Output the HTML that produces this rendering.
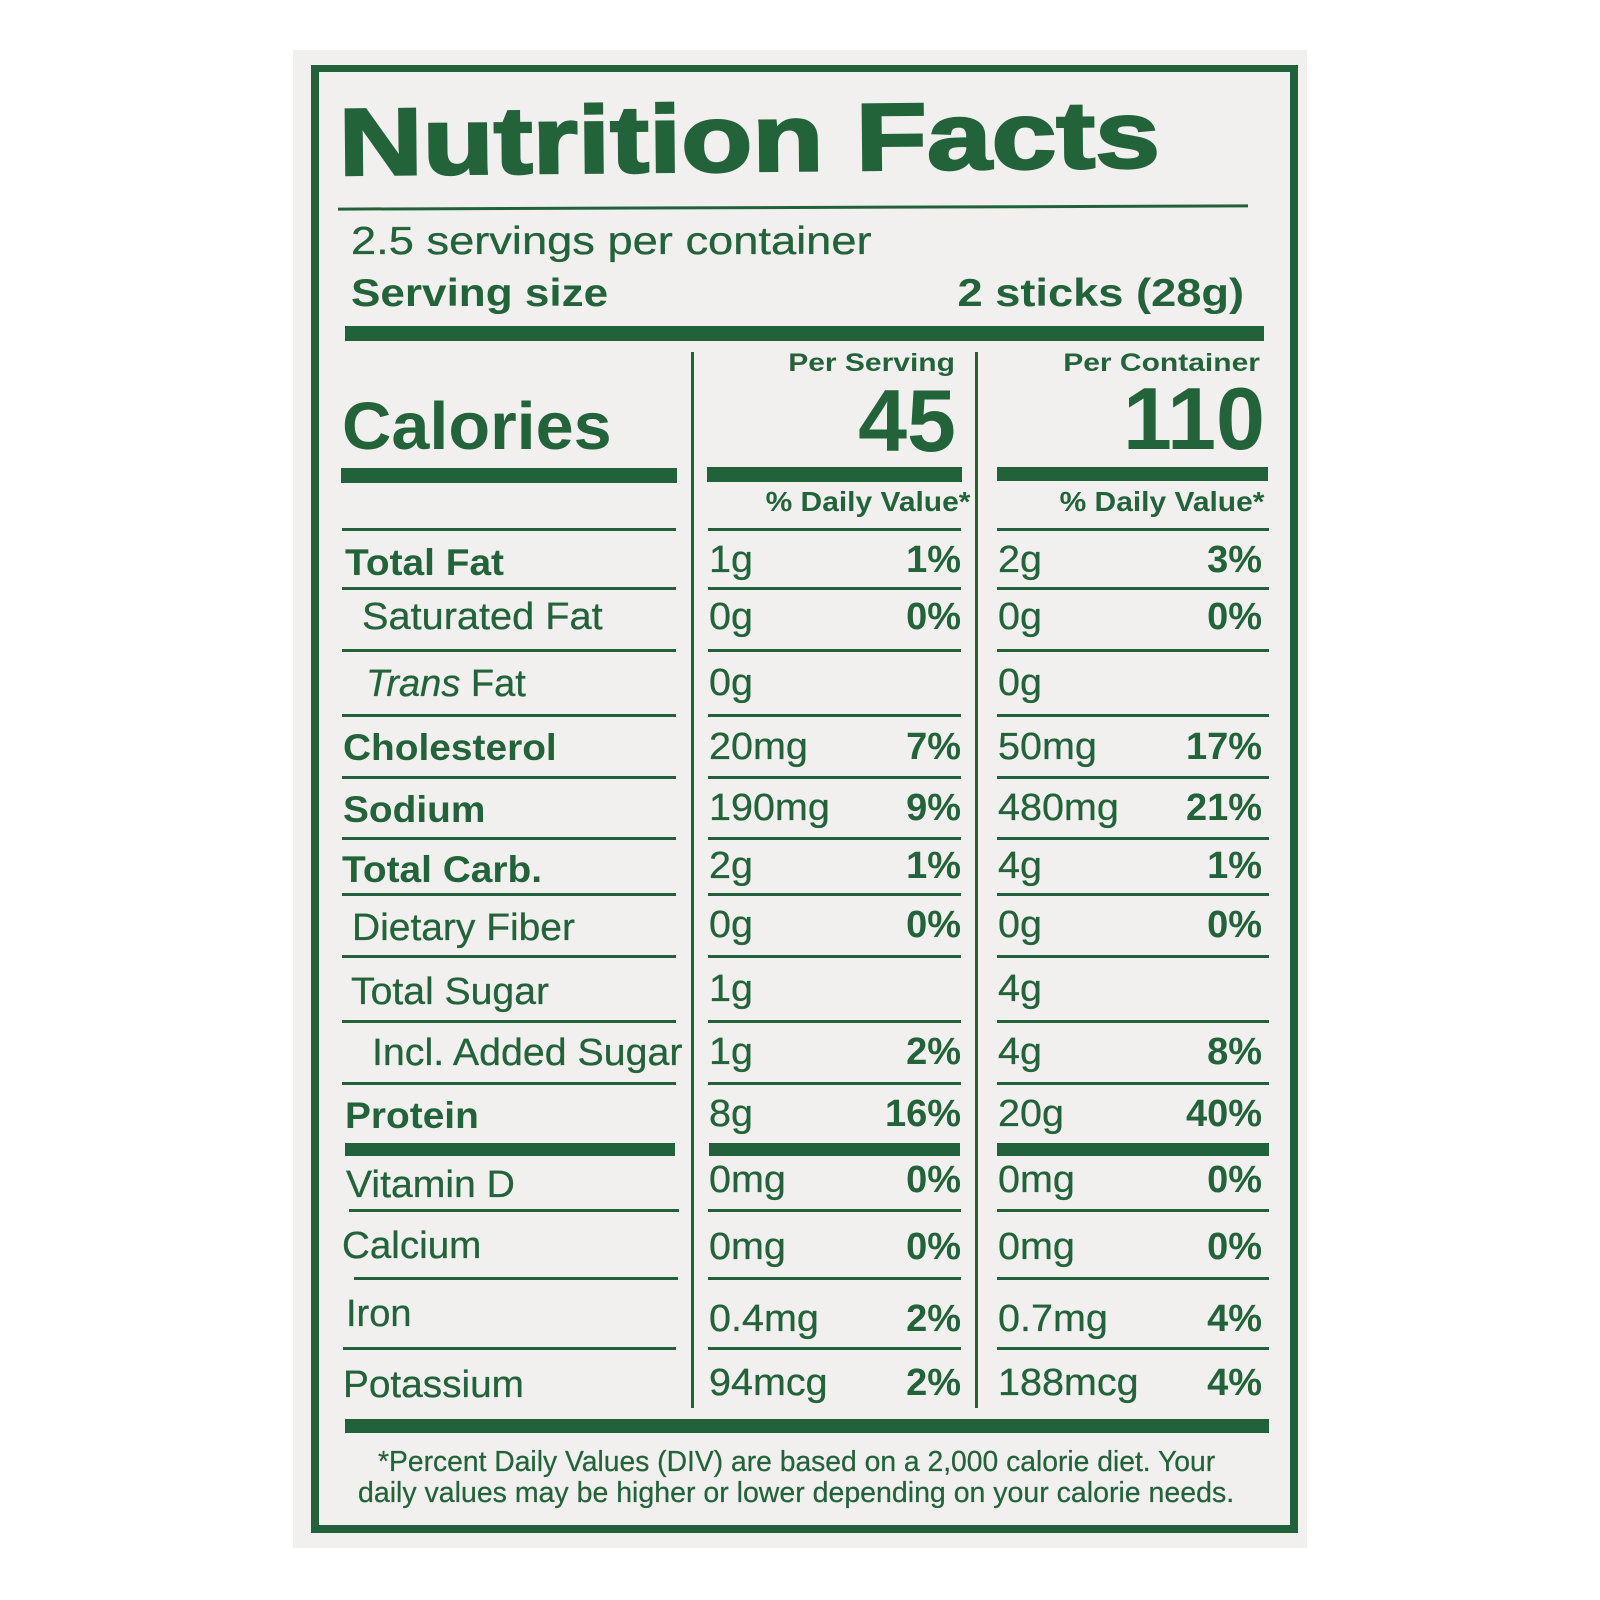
<!DOCTYPE html>
<html>
<head>
<meta charset="utf-8">
<style>
  html,body{margin:0;padding:0;}
  body{width:1600px;height:1600px;background:#ffffff;position:relative;overflow:hidden;}
  .panel{position:absolute;left:293px;top:50px;width:1014px;height:1498px;background:#f1f0ef;}
  .border{position:absolute;left:311px;top:65px;width:971px;height:1453px;border:8px solid #22623a;border-top-width:7px;}
  .t{position:absolute;white-space:nowrap;line-height:1;font-family:"Liberation Sans",Arial,sans-serif;color:#23633a;}
  .b{font-weight:bold;}
  .l{transform-origin:0 0;}
  .r{text-align:right;transform-origin:100% 0;}
  .ln{position:absolute;background:#22623a;height:3px;}
  .bar{position:absolute;background:#22623a;}
  .lc{left:342px;width:334px;}
  .mc{left:708px;width:253px;}
  .rc{left:997px;width:272px;}
  .lab{font-size:37px;transform-origin:0 0;transform:scaleX(1.05);}
  .reg{font-size:38px;transform-origin:0 0;-webkit-text-stroke:0.3px #23633a;}
  .val{font-size:38px;}
  .mv,.rv{transform-origin:0 0;transform:scaleX(1.04);-webkit-text-stroke:0.3px #23633a;}
  .mv{left:709px;}
  .rv{left:998px;}
  .mp{right:639px;}
  .rp{right:338px;}
</style>
</head>
<body>
<div class="panel"></div>
<div class="border"></div>

<!-- Title -->
<div class="t b" style="left:339px;top:96.1px;font-size:95px;transform-origin:0 80.4px;transform:rotate(-0.55deg) scaleX(1.225);-webkit-text-stroke:2.5px #23633a;">Nutrition Facts</div>
<div class="ln" style="left:338px;top:206px;width:910px;transform:rotate(-0.2deg);"></div>

<div class="t l" style="left:351px;top:222px;font-size:39px;transform:scaleX(1.16);-webkit-text-stroke:0.3px #23633a;">2.5 servings per container</div>
<div class="t b l" style="left:351px;top:274px;font-size:39px;transform:scaleX(1.13);">Serving size</div>
<div class="t b r" style="right:356px;top:274px;font-size:39px;transform:scaleX(1.16);">2 sticks (28g)</div>

<div class="bar" style="left:345px;top:326px;width:919px;height:15px;"></div>

<!-- dividers -->
<div class="bar" style="left:691px;top:352px;width:3px;height:1056px;"></div>
<div class="bar" style="left:975px;top:352px;width:3px;height:1056px;"></div>

<div class="t b r" style="right:645px;top:350.8px;font-size:25px;transform:scaleX(1.2);">Per Serving</div>
<div class="t b r" style="right:340px;top:350.8px;font-size:25px;transform:scaleX(1.2);">Per Container</div>

<div class="t b l" style="left:342px;top:393.3px;font-size:67px;transform:scaleX(1.02);">Calories</div>
<div class="t b r" style="right:644px;top:376.5px;font-size:88px;">45</div>
<div class="t b r" style="right:335px;top:374.5px;font-size:88px;">110</div>

<div class="bar" style="left:341px;top:468px;width:336px;height:15px;"></div>
<div class="bar" style="left:707px;top:467px;width:255px;height:15px;"></div>
<div class="bar" style="left:997px;top:467px;width:271px;height:14px;"></div>

<div class="t b r" style="right:630px;top:488.3px;font-size:28px;transform:scaleX(1.07);">% Daily Value*</div>
<div class="t b r" style="right:336px;top:488.3px;font-size:28px;transform:scaleX(1.07);">% Daily Value*</div>

<!-- thin lines -->
<div class="ln lc" style="top:527.5px"></div><div class="ln mc" style="top:527.5px"></div><div class="ln rc" style="top:527.5px"></div>
<div class="ln lc" style="top:587px"></div><div class="ln mc" style="top:587px"></div><div class="ln rc" style="top:587px"></div>
<div class="ln lc" style="top:649px"></div><div class="ln mc" style="top:649px"></div><div class="ln rc" style="top:649px"></div>
<div class="ln lc" style="top:714px"></div><div class="ln mc" style="top:714px"></div><div class="ln rc" style="top:714px"></div>
<div class="ln lc" style="top:776px"></div><div class="ln mc" style="top:776px"></div><div class="ln rc" style="top:776px"></div>
<div class="ln lc" style="top:837px"></div><div class="ln mc" style="top:837px"></div><div class="ln rc" style="top:837px"></div>
<div class="ln lc" style="top:893px"></div><div class="ln mc" style="top:893px"></div><div class="ln rc" style="top:893px"></div>
<div class="ln lc" style="top:954.5px"></div><div class="ln mc" style="top:954.5px"></div><div class="ln rc" style="top:954.5px"></div>
<div class="ln lc" style="top:1020px"></div><div class="ln mc" style="top:1020px"></div><div class="ln rc" style="top:1020px"></div>
<div class="ln lc" style="top:1082px"></div><div class="ln mc" style="top:1082px"></div><div class="ln rc" style="top:1082px"></div>
<div class="bar" style="left:345px;top:1143px;width:330px;height:13px;"></div>
<div class="bar" style="left:709px;top:1143px;width:251px;height:13px;"></div>
<div class="bar" style="left:997px;top:1143px;width:272px;height:13px;"></div>
<div class="ln" style="left:349px;width:330px;top:1209px"></div><div class="ln mc" style="top:1209px"></div><div class="ln rc" style="top:1209px"></div>
<div class="ln" style="left:354px;width:324px;top:1276.5px"></div><div class="ln mc" style="top:1276.5px"></div><div class="ln rc" style="top:1276.5px"></div>
<div class="ln" style="left:343px;width:333px;top:1347px"></div><div class="ln mc" style="top:1347px"></div><div class="ln rc" style="top:1347px"></div>

<div class="bar" style="left:345px;top:1419px;width:924px;height:14px;"></div>

<!-- Row 1 Total Fat -->
<div class="t b lab" style="left:345px;top:543.7px;">Total Fat</div>
<div class="t val mv" style="top:540.8px;">1g</div>
<div class="t b val r mp" style="top:540.8px;">1%</div>
<div class="t val rv" style="top:540.8px;">2g</div>
<div class="t b val r rp" style="top:540.8px;">3%</div>

<!-- Row 2 Saturated Fat -->
<div class="t reg" style="left:362px;top:597.8px;transform:scaleX(1.045);">Saturated Fat</div>
<div class="t val mv" style="top:597.8px;">0g</div>
<div class="t b val r mp" style="top:597.8px;">0%</div>
<div class="t val rv" style="top:597.8px;">0g</div>
<div class="t b val r rp" style="top:597.8px;">0%</div>

<!-- Row 3 Trans Fat -->
<div class="t reg" style="left:366px;top:664.8px;"><i>Trans</i> Fat</div>
<div class="t val mv" style="top:663.8px;">0g</div>
<div class="t val rv" style="top:663.8px;">0g</div>

<!-- Row 4 Cholesterol -->
<div class="t b lab" style="left:343px;top:728.7px;">Cholesterol</div>
<div class="t val mv" style="top:727.8px;">20mg</div>
<div class="t b val r mp" style="top:727.8px;">7%</div>
<div class="t val rv" style="top:727.8px;">50mg</div>
<div class="t b val r rp" style="top:727.8px;">17%</div>

<!-- Row 5 Sodium -->
<div class="t b lab" style="left:343px;top:790.7px;">Sodium</div>
<div class="t val mv" style="top:789.3px;">190mg</div>
<div class="t b val r mp" style="top:789.3px;">9%</div>
<div class="t val rv" style="top:789.3px;">480mg</div>
<div class="t b val r rp" style="top:789.3px;">21%</div>

<!-- Row 6 Total Carb -->
<div class="t b lab" style="left:342px;top:851.2px;">Total Carb.</div>
<div class="t val mv" style="top:847.3px;">2g</div>
<div class="t b val r mp" style="top:847.3px;">1%</div>
<div class="t val rv" style="top:847.3px;">4g</div>
<div class="t b val r rp" style="top:847.3px;">1%</div>

<!-- Row 7 Dietary Fiber -->
<div class="t reg" style="left:352px;top:909px;transform:scaleX(1.025);">Dietary Fiber</div>
<div class="t val mv" style="top:905.8px;">0g</div>
<div class="t b val r mp" style="top:905.8px;">0%</div>
<div class="t val rv" style="top:905.8px;">0g</div>
<div class="t b val r rp" style="top:905.8px;">0%</div>

<!-- Row 8 Total Sugar -->
<div class="t reg" style="left:351px;top:973px;transform:scaleX(1.03);">Total Sugar</div>
<div class="t val mv" style="top:969.8px;">1g</div>
<div class="t val rv" style="top:969.8px;">4g</div>

<!-- Row 9 Incl. Added Sugar -->
<div class="t reg" style="left:372px;top:1034px;transform:scaleX(1.035);">Incl. Added Sugar</div>
<div class="t val mv" style="top:1032.8px;">1g</div>
<div class="t b val r mp" style="top:1032.8px;">2%</div>
<div class="t val rv" style="top:1032.8px;">4g</div>
<div class="t b val r rp" style="top:1032.8px;">8%</div>

<!-- Row 10 Protein -->
<div class="t b lab" style="left:345px;top:1096.7px;">Protein</div>
<div class="t val mv" style="top:1094.8px;">8g</div>
<div class="t b val r mp" style="top:1094.8px;">16%</div>
<div class="t val rv" style="top:1094.8px;">20g</div>
<div class="t b val r rp" style="top:1094.8px;">40%</div>

<!-- Row 11 Vitamin D -->
<div class="t reg" style="left:346px;top:1166px;transform:scaleX(1.03);">Vitamin D</div>
<div class="t val mv" style="top:1161px;">0mg</div>
<div class="t b val r mp" style="top:1161px;">0%</div>
<div class="t val rv" style="top:1161px;">0mg</div>
<div class="t b val r rp" style="top:1161px;">0%</div>

<!-- Row 12 Calcium -->
<div class="t reg" style="left:342px;top:1226.5px;transform:scaleX(1.015);">Calcium</div>
<div class="t val mv" style="top:1228.3px;">0mg</div>
<div class="t b val r mp" style="top:1228.3px;">0%</div>
<div class="t val rv" style="top:1228.3px;">0mg</div>
<div class="t b val r rp" style="top:1228.3px;">0%</div>

<!-- Row 13 Iron -->
<div class="t reg" style="left:346px;top:1294.8px;">Iron</div>
<div class="t val mv" style="top:1299.8px;">0.4mg</div>
<div class="t b val r mp" style="top:1299.8px;">2%</div>
<div class="t val rv" style="top:1299.8px;">0.7mg</div>
<div class="t b val r rp" style="top:1299.8px;">4%</div>

<!-- Row 14 Potassium -->
<div class="t reg" style="left:343px;top:1365.5px;transform:scaleX(1.02);">Potassium</div>
<div class="t val mv" style="top:1364.3px;">94mcg</div>
<div class="t b val r mp" style="top:1364.3px;">2%</div>
<div class="t val rv" style="top:1364.3px;">188mcg</div>
<div class="t b val r rp" style="top:1364.3px;">4%</div>

<!-- Footnote -->
<div class="t l" style="left:378px;top:1447.9px;font-size:28.5px;transform:scaleX(0.992);-webkit-text-stroke:0.25px #23633a;">*Percent Daily Values (DIV) are based on a 2,000 calorie diet. Your</div>
<div class="t l" style="left:358px;top:1479.4px;font-size:28.5px;-webkit-text-stroke:0.25px #23633a;">daily values may be higher or lower depending on your calorie needs.</div>

</body>
</html>
